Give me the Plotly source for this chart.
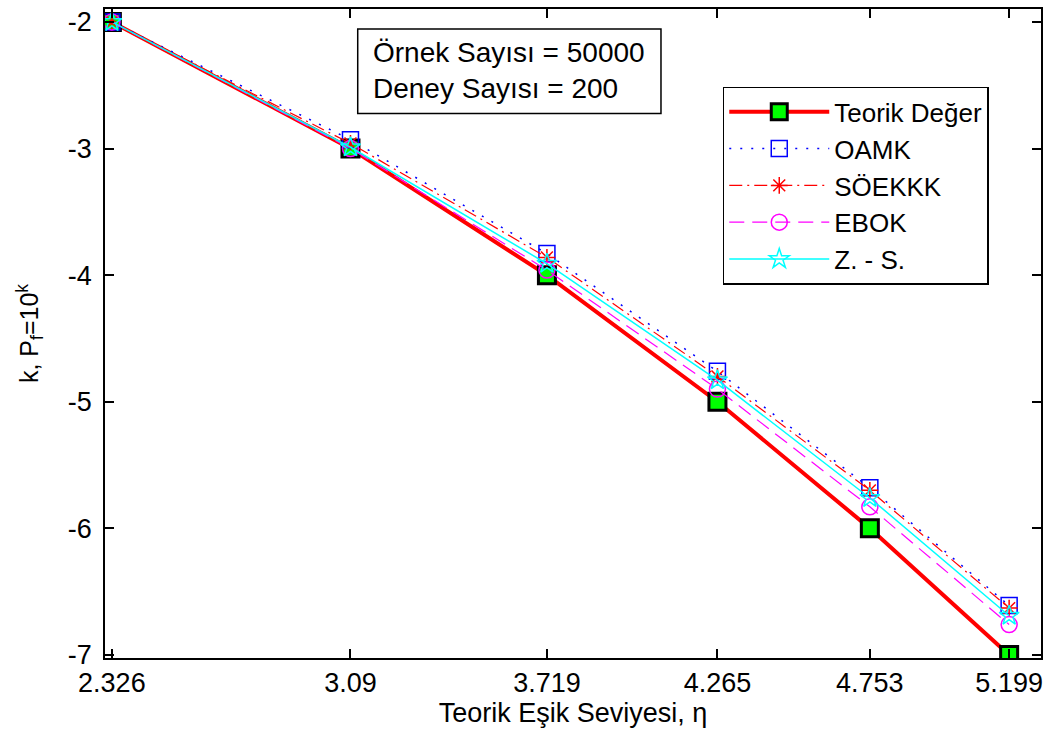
import plotly.graph_objects as go

eta = [2.326, 3.09, 3.719, 4.265, 4.753, 5.199]
tick_labels = ["2.326", "3.09", "3.719", "4.265", "4.753", "5.199"]
teorik = [-2, -3, -4, -5, -6, -7]
oamk = [-2.0, -2.93, -3.83, -4.76, -5.68, -6.61]
soekkk = [-2.0, -2.96, -3.86, -4.80, -5.70, -6.63]
ebok = [-2.0, -3.0, -3.96, -4.90, -5.83, -6.76]
zs = [-2.0, -2.99, -3.91, -4.83, -5.76, -6.69]
y_ticks = [-7, -6, -5, -4, -3, -2]

FONT = "Liberation Sans, Arial, sans-serif"

fig = go.Figure()
fig.add_trace(go.Scatter(x=eta, y=teorik, name="Teorik Değer", mode="lines+markers",
                         line=dict(color="#ff0000", width=4),
                         marker=dict(symbol="square", size=17, color="#00ff00",
                                     line=dict(color="black", width=3)),
                         legendgroup="a"))
fig.add_trace(go.Scatter(x=eta, y=oamk, name="OAMK", mode="lines+markers",
                         line=dict(color="#0000ff", width=1.5, dash="2px,9px"),
                         marker=dict(symbol="square-open", size=16, color="#0000ff",
                                     line=dict(width=1.5)),
                         legendgroup="b"))
fig.add_trace(go.Scatter(x=eta, y=soekkk, name="SÖEKKK", mode="lines+markers",
                         line=dict(color="#ff0000", width=1.2, dash="13px,5px,2px,5px"),
                         marker=dict(symbol="asterisk-open", size=14, color="#ff0000",
                                     line=dict(width=1.5, color="#ff0000")),
                         legendgroup="c"))
fig.add_trace(go.Scatter(x=eta, y=ebok, name="EBOK", mode="lines+markers",
                         line=dict(color="#ff00ff", width=1.2, dash="15px,8px"),
                         marker=dict(symbol="circle-open", size=16, color="#ff00ff",
                                     line=dict(width=1.5)),
                         legendgroup="d"))
fig.add_trace(go.Scatter(x=eta, y=zs, name="Z. - S.", mode="lines+markers",
                         line=dict(color="#00ffff", width=1.5),
                         marker=dict(symbol="star-open", size=15, color="#00ffff",
                                     line=dict(width=1.5)),
                         legendgroup="e"))

axis_common = dict(showline=True, linecolor="black", linewidth=1.5, mirror="ticks",
                   ticks="inside", ticklen=9, tickcolor="black", tickwidth=1.5,
                   showgrid=False, zeroline=False,
                   tickfont=dict(family=FONT, size=27, color="black"))

fig.update_xaxes(range=[2.304, 5.301], tickvals=eta, ticktext=tick_labels,
                 title=dict(text="Teorik Eşik Seviyesi, η", font=dict(family=FONT, size=27, color="black"),
                            standoff=4),
                 **axis_common)
fig.update_yaxes(range=[-7.024, -1.898], tickvals=y_ticks, ticktext=[str(v) for v in y_ticks],
                 title=dict(text="k, P<sub>f</sub>=10<sup>k</sup>", font=dict(family=FONT, size=25, color="black"),
                            standoff=22),
                 ticklabelstandoff=6,
                 **axis_common)

# info box
fig.add_shape(type="rect", xref="paper", yref="paper", x0=0.270, x1=0.594, y0=0.839, y1=0.969,
              line=dict(color="black", width=1.5), fillcolor="white", layer="above")
fig.add_annotation(xref="paper", yref="paper", x=0.284, y=0.906, xanchor="left", yanchor="middle",
                   text="Örnek Sayısı = 50000<br>Deney Sayısı = 200", showarrow=False, align="left",
                   font=dict(family=FONT, size=28, color="black"))

fig.update_layout(
    width=1050, height=733,
    margin=dict(l=105, r=7, t=7, b=75),
    paper_bgcolor="white", plot_bgcolor="white",
    font=dict(family=FONT, color="black"),
    legend=dict(x=0.660, y=0.880, xanchor="left", yanchor="top",
                bordercolor="black", borderwidth=1.5, bgcolor="white",
                font=dict(family=FONT, size=26, color="black"),
                itemwidth=100, tracegroupgap=0, traceorder="normal"),
)

fig.write_html("out.html")
